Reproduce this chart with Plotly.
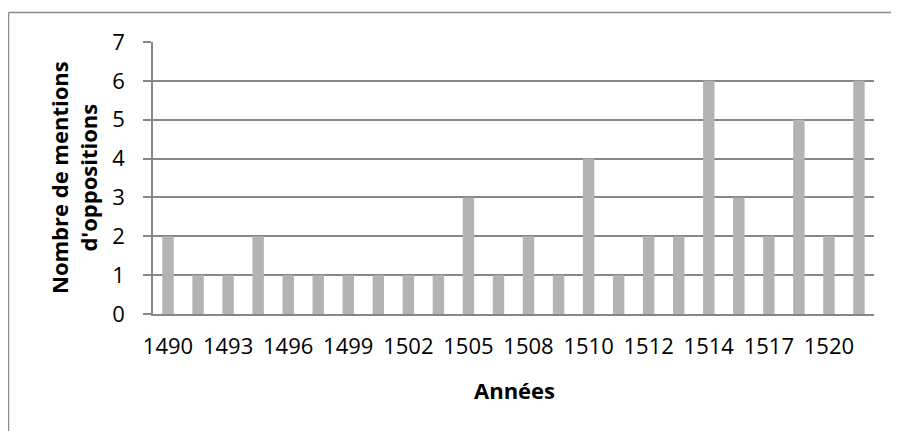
import plotly.graph_objects as go

years = ["1490", "1492", "1493", "1495", "1496", "1498", "1499", "1501",
         "1502", "1504", "1505", "1507", "1508", "1509", "1510", "1511",
         "1512", "1513", "1514", "1516", "1517", "1519", "1520", "1521"]
mentions = [2, 1, 1, 2, 1, 1, 1, 1, 1, 1, 3, 1, 2, 1, 4, 1, 2, 2, 6, 3, 2, 5, 2, 6]
shown_ticks = years[::2]
y_ticks = [0, 1, 2, 3, 4, 5, 6, 7]

# page has an 8px body margin, so work in shifted coordinates
OFF = 8
W, H = 899 - OFF, 431 - OFF
L, R, T, B = 153 - OFF, 874 - OFF, 42 - OFF, 314 - OFF
pw, ph = R - L, B - T

FONT = "Open Sans"
FS = 22
GRID = "#868686"

fig = go.Figure(go.Bar(x=years, y=mentions, marker=dict(color="#b3b3b3", line=dict(width=0))))

fig.update_layout(
    width=W, height=H,
    margin=dict(l=L, r=W - R, t=T, b=H - B, pad=0),
    paper_bgcolor="white", plot_bgcolor="white",
    bargap=0.62, showlegend=False,
    font=dict(family=FONT, color="black", size=FS),
)
fig.update_xaxes(
    type="category", tickmode="array", tickvals=shown_ticks, ticktext=shown_ticks,
    showgrid=False, showline=True, linecolor=GRID, linewidth=1.5,
    ticks="", ticklabelstandoff=12, tickfont=dict(size=FS, family=FONT),
)
fig.update_yaxes(
    range=[0, 7], tickvals=y_ticks, showgrid=True, gridcolor=GRID, gridwidth=1.5,
    showline=True, linecolor=GRID, linewidth=1.5, ticks="outside", ticklen=8,
    tickcolor=GRID, tickwidth=1.5, zeroline=False, tickfont=dict(size=FS, family=FONT),
    ticklabelstandoff=14,
)

def px_x(p):
    return (p - OFF - L) / pw

def px_y(p):
    return (B - (p - OFF)) / ph

fig.add_annotation(
    text="<b>Nombre de mentions<br>d'oppositions</b>", textangle=-90,
    xref="paper", yref="paper", x=px_x(73), y=px_y(178),
    xanchor="center", yanchor="middle", showarrow=False,
    font=dict(size=FS, family=FONT, color="black"),
)
fig.add_annotation(
    text="<b>Années</b>", xref="paper", yref="paper",
    x=px_x(514), y=px_y(390), xanchor="center", yanchor="middle",
    showarrow=False, font=dict(size=FS, family=FONT, color="black"),
)
# chart outer border (left and top edges visible)
fig.add_shape(type="line", xref="paper", yref="paper",
              x0=px_x(8.5), x1=px_x(8.5), y0=px_y(12.5), y1=px_y(445),
              line=dict(color="#8c8c8c", width=1.5))
fig.add_shape(type="line", xref="paper", yref="paper",
              x0=px_x(8.5), x1=px_x(910), y0=px_y(12.5), y1=px_y(12.5),
              line=dict(color="#8c8c8c", width=1.5))

fig.write_html("out.html")
